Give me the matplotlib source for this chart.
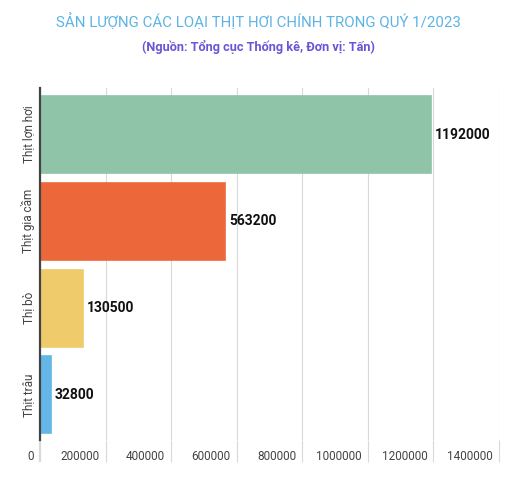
#!/usr/bin/env python3
"""Horizontal bar chart of main live meat output, Q1/2023."""

import matplotlib.pyplot as plt
import matplotlib.transforms as mtransforms

plt.rcParams['font.family'] = ['Roboto', 'DejaVu Sans']

categories = ["Thịt lợn hơi", "Thịt gia cầm", "Thị bò", "Thịt trâu"]
values = [1192000, 563200, 130500, 32800]
colors = ["#8fc4a9", "#ec683b", "#efcb6c", "#64b6e6"]
xticks = [0, 200000, 400000, 600000, 800000, 1000000, 1200000, 1400000]

fig = plt.figure(figsize=(5.29, 4.79), dpi=100)
ax = fig.add_axes([40 / 529, 1 - 440 / 479, 459 / 529, 352 / 479])

pos = list(range(len(categories)))
bars = ax.barh(pos, values, height=0.887, color=colors, zorder=2,
               edgecolor=colors, linewidth=1.2)
ax.bar_label(bars, labels=[str(v) for v in values], padding=3,
             fontsize=10, fontweight="bold", color="#111111")

ax.set_ylim(3.52, -0.536)
ax.set_xlim(0, 1400000)
ax.set_yticks(pos)
ax.set_yticklabels(categories, rotation=90, va="center", fontsize=8.5,
                   color="#444444")
ax.tick_params(axis="y", length=0, pad=3.5)

ax.set_xticks(xticks)
ax.set_xticklabels([str(t) for t in xticks], fontsize=8.5, color="#444444",
                   ha="right")
ax.tick_params(axis="x", length=15.8, width=0.8, color="#d9d9d9", pad=-8.6)
offset = mtransforms.ScaledTranslation(-6 / 100, 0, fig.dpi_scale_trans)
for lab in ax.get_xticklabels():
    lab.set_transform(lab.get_transform() + offset)
first = ax.xaxis.get_major_ticks()[0]
first.tick1line.set_color("#444444")
first.tick1line.set_markeredgewidth(1.6)

ax.grid(axis="x", color="#d9d9d9", linewidth=0.8, zorder=0)
ax.set_axisbelow(True)
for side in ["top", "right", "bottom"]:
    ax.spines[side].set_visible(False)
ax.spines["left"].set_color("#444444")
ax.spines["left"].set_linewidth(1.6)
ax.spines["left"].set_zorder(3)

fig.text(258 / 529, 1 - 22 / 479, "SẢN LƯỢNG CÁC LOẠI THỊT HƠI CHÍNH TRONG QUÝ 1/2023",
         ha="center", va="center", fontsize=10.8, color="#5db4e4")
fig.text(258 / 529, 1 - 47 / 479, "(Nguồn: Tổng cục Thống kê, Đơn vị: Tấn)",
         ha="center", va="center", fontsize=9.2, fontweight="bold",
         color="#6a55d6")

fig.savefig("out.png", dpi=100)
